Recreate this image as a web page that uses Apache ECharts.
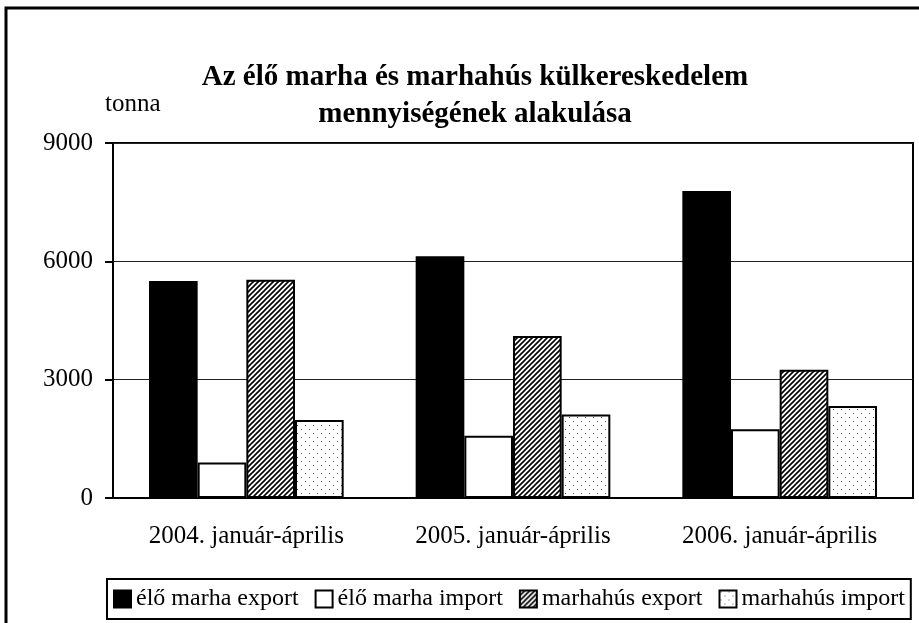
<!DOCTYPE html>
<html>
<head>
<meta charset="utf-8">
<script src="https://cdn.jsdelivr.net/npm/echarts@6/dist/echarts.min.js"></script>
<style>
  html, body { margin: 0; padding: 0; background: #fff; }
  #chart { width: 919px; height: 623px; }
</style>
</head>
<body>
<div id="chart"></div>
<script>
const categories = ['2004. január-április', '2005. január-április', '2006. január-április'];
const seriesNames = ['élő marha export', 'élő marha import', 'marhahús export', 'marhahús import'];
const eloMarhaExport = [5500, 6130, 7780];
const eloMarhaImport = [900, 1580, 1740];
const marhahusExport = [5530, 4110, 3250];
const marhahusImport = [1980, 2120, 2330];
const yTicks = [0, 3000, 6000, 9000];

// diagonal hatch pattern
function hatch() {
  const c = document.createElement('canvas');
  c.width = 5; c.height = 5;
  const g = c.getContext('2d');
  g.fillStyle = '#fff';
  g.fillRect(0, 0, 5, 5);
  g.strokeStyle = '#000';
  g.lineWidth = 1.6;
  g.beginPath();
  g.moveTo(-1, 6); g.lineTo(6, -1);
  g.moveTo(-1, 1); g.lineTo(1, -1);
  g.moveTo(4, 6); g.lineTo(6, 4);
  g.stroke();
  return c;
}
// sparse dots
function dots() {
  const c = document.createElement('canvas');
  c.width = 8; c.height = 8;
  const g = c.getContext('2d');
  g.fillStyle = '#fff';
  g.fillRect(0, 0, 8, 8);
  g.fillStyle = '#555';
  g.fillRect(1, 1, 1, 1);
  g.fillRect(5, 5, 1, 1);
  return c;
}

const fills = [
  '#000',
  '#fff',
  { image: hatch(), repeat: 'repeat' },
  { image: dots(), repeat: 'repeat' }
];
const values = [eloMarhaExport, eloMarhaImport, marhahusExport, marhahusImport];

const font = 'Liberation Serif, Times New Roman, serif';

const chart = echarts.init(document.getElementById('chart'));
chart.setOption({
  animation: false,
  backgroundColor: '#fff',
  textStyle: { fontFamily: font, color: '#000' },
  graphic: [{
    type: 'rect',
    shape: { x: 6, y: 8, width: 1000, height: 1000 },
    style: { fill: 'none', stroke: '#000', lineWidth: 3 },
    z: -1
  }],
  title: {
    text: 'Az élő marha és marhahús külkereskedelem\nmennyiségének alakulása',
    left: 470,
    top: 54,
    textAlign: 'center',
    textStyle: { fontFamily: font, fontSize: 29, fontWeight: 'bold', color: '#000', lineHeight: 37 }
  },
  legend: {
    left: 107,
    width: 830,
    bottom: 4,
    padding: [8, 6, 8, 6],
    itemGap: 16,
    itemWidth: 17,
    itemHeight: 17,
    borderColor: '#000',
    borderWidth: 2,
    icon: 'rect',
    textStyle: { fontFamily: font, fontSize: 24, color: '#000' },
    data: seriesNames
  },
  grid: {
    left: 113, top: 143, right: 6, bottom: 125,
    show: true, borderColor: '#000', borderWidth: 2
  },
  xAxis: {
    type: 'category',
    data: categories,
    axisLine: { lineStyle: { color: '#000', width: 2 } },
    axisTick: { length: 8, lineStyle: { color: '#000', width: 2 } },
    axisLabel: { fontFamily: font, fontSize: 25, color: '#000', margin: 26 }
  },
  yAxis: {
    type: 'value',
    min: yTicks[0],
    max: yTicks[yTicks.length - 1],
    interval: 3000,
    name: 'tonna',
    nameLocation: 'end',
    nameGap: 26,
    nameTextStyle: { fontFamily: font, fontSize: 25, color: '#000', align: 'left', padding: [0, 0, 0, -8] },
    axisLine: { show: true, lineStyle: { color: '#000', width: 2 } },
    axisTick: { show: true, length: 8, lineStyle: { color: '#000', width: 2 } },
    axisLabel: { fontFamily: font, fontSize: 25, color: '#000', margin: 20, formatter: v => String(v) },
    splitLine: { lineStyle: { color: '#222', width: 1 } }
  },
  series: seriesNames.map((name, i) => ({
    name: name,
    type: 'bar',
    data: values[i],
    barGap: '0%',
    barCategoryGap: '27%',
    itemStyle: { color: fills[i], borderColor: '#000', borderWidth: 2 }
  }))
});
</script>
</body>
</html>
